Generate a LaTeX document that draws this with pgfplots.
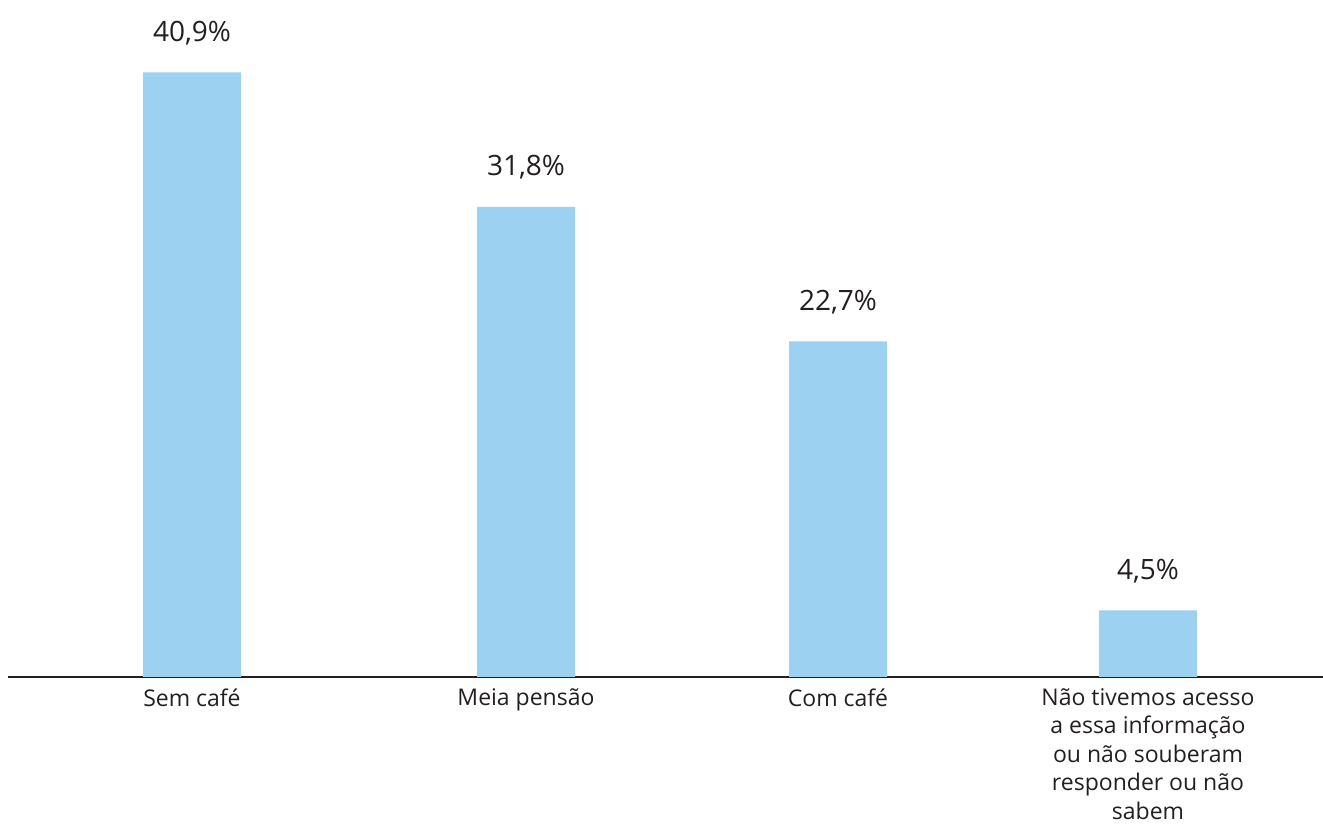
\documentclass[border=0pt]{standalone}
\usepackage{pgfplots}
\pgfplotsset{compat=1.18}
\usepackage{fontspec}
\setmainfont{Open Sans}
\definecolor{barblue}{HTML}{9DD1F1}
\definecolor{txt}{HTML}{231F20}
\begin{document}
\begin{tikzpicture}
\begin{axis}[
  name=ax,
  scale only axis,
  width=657.5pt, height=338.5pt,
  xmin=8, xmax=1323,
  ymin=0, ymax=45.8,
  axis x line=bottom, axis y line=none,
  x axis line style={-, line width=1pt, color=txt},
  ytick=\empty,
  xtick={192,526,838,1148},
  xticklabels={Sem café, Meia pensão, Com café, {Não tivemos acesso\\a essa informação\\ou não souberam\\responder ou não\\sabem}},
  xticklabel style={font=\fontsize{11.5}{14.25}\selectfont, color=txt, align=center, anchor=north, inner sep=0pt, yshift=-5.5pt},
  major tick length=0pt,
  clip=false,
  ybar, bar width=49pt,
  nodes near coords,
  point meta=explicit symbolic,
  every node near coord/.append style={font=\fontsize{14}{16}\selectfont, color=txt, anchor=base, yshift=15.5pt, inner sep=0pt},
]
\addplot[fill=barblue, draw=none] table[x=x, y=y, meta=lab] {
x y lab
192 40.9 40,9\%
526 31.8 31,8\%
838 22.7 22,7\%
1148 4.5 4,5\%
};
\end{axis}
\pgfresetboundingbox
\path ([xshift=-4pt]ax.south west) ++(0,-74.5pt) rectangle (ax.north east);
\end{tikzpicture}
\end{document}
